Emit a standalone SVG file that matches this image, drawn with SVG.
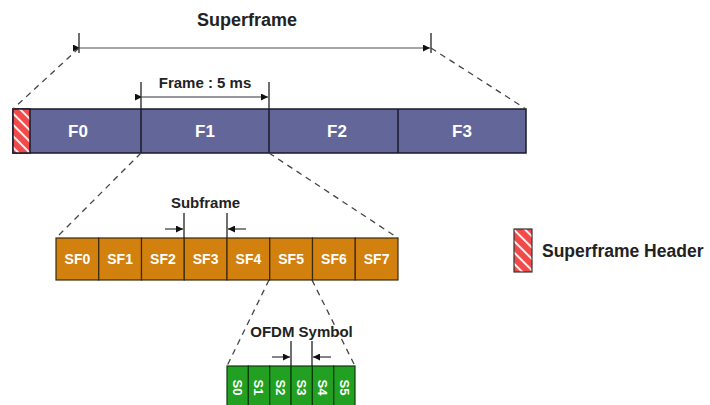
<svg xmlns="http://www.w3.org/2000/svg" width="710" height="405" viewBox="0 0 710 405">
<style>
.lbl{font-family:"Liberation Sans",Arial,sans-serif;font-weight:bold;fill:#222}
.wt{font-family:"Liberation Sans",Arial,sans-serif;font-weight:bold;fill:#fff;text-anchor:middle}
.fr{fill:#636699;stroke:#1a1a2a;stroke-width:1.5}
.sf{fill:#D2800E;stroke:#3a2a10;stroke-width:1.2}
.sy{fill:#22A022;stroke:#0e3a0e;stroke-width:1.2}
.dash{stroke:#444;stroke-width:1.3;stroke-dasharray:6,5;fill:none}
.tick{stroke:#222;stroke-width:1.3}
.dim{stroke:#333;stroke-width:1.2;fill:none}
</style>
<defs>
<marker id="ah" viewBox="0 0 10 10" refX="10" refY="5" markerWidth="9" markerHeight="7" markerUnits="userSpaceOnUse" orient="auto">
<path d="M0,0 L10,5 L0,10 z" fill="#111"/>
</marker>
<pattern id="hatch" width="8" height="8" patternUnits="userSpaceOnUse" patternTransform="rotate(-45)">
<rect width="8" height="8" fill="#F04A4A"/>
<rect x="0" y="0" width="2" height="8" fill="#fff" opacity="0.9"/>
</pattern>
</defs>

<g id="superframe-dim">
<text class="lbl" x="247" y="26" font-size="18" text-anchor="middle">Superframe</text>
<line class="tick" x1="79" y1="33" x2="79" y2="53"/>
<line class="tick" x1="431" y1="33" x2="431" y2="53"/>
<line stroke="#888" stroke-width="1.3" x1="80" y1="48" x2="430" y2="48" marker-start="url(#ah)" marker-end="url(#ah)"/>
</g>

<g id="frame-dim">
<text class="lbl" x="205" y="88" font-size="15" text-anchor="middle">Frame : 5 ms</text>
<line class="tick" x1="141" y1="82" x2="141" y2="109"/>
<line class="tick" x1="269" y1="82" x2="269" y2="109"/>
<line class="dim" x1="142" y1="97" x2="268" y2="97" marker-start="url(#ah)" marker-end="url(#ah)"/>
</g>

<g id="superframe-bar">
<rect class="fr" x="13" y="109" width="513" height="44"/>
<rect x="13" y="109" width="17" height="44" fill="url(#hatch)" stroke="#1a1a2a" stroke-width="1.5"/>
<line stroke="#1a1a2a" stroke-width="1.5" x1="141" y1="109" x2="141" y2="153"/>
<line stroke="#1a1a2a" stroke-width="1.5" x1="269" y1="109" x2="269" y2="153"/>
<line stroke="#1a1a2a" stroke-width="1.5" x1="398" y1="109" x2="398" y2="153"/>
<text class="wt" x="78" y="137" font-size="17">F0</text>
<text class="wt" x="205" y="137" font-size="17">F1</text>
<text class="wt" x="337" y="137" font-size="17">F2</text>
<text class="wt" x="462" y="137" font-size="17">F3</text>
</g>

<g id="connectors">
<line class="dash" x1="79" y1="48" x2="13" y2="109"/>
<line class="dash" x1="431" y1="48" x2="526" y2="109"/>
<line class="dash" x1="141" y1="153" x2="56" y2="238"/>
<line class="dash" x1="269" y1="153" x2="398" y2="238"/>
<line class="dash" x1="269" y1="280" x2="227" y2="366"/>
<line class="dash" x1="312" y1="280" x2="355" y2="366"/>
</g>

<g id="subframe-dim">
<text class="lbl" x="205.5" y="208" font-size="15" text-anchor="middle">Subframe</text>
<line class="tick" x1="184" y1="213" x2="184" y2="238"/>
<line class="tick" x1="227" y1="213" x2="227" y2="238"/>
<line class="dim" x1="165" y1="229" x2="183" y2="229" marker-end="url(#ah)"/>
<line class="dim" x1="246" y1="229" x2="228" y2="229" marker-end="url(#ah)"/>
</g>

<g id="subframe-bar">
<rect class="sf" x="56" y="238" width="42.75" height="42"/>
<rect class="sf" x="98.75" y="238" width="42.75" height="42"/>
<rect class="sf" x="141.5" y="238" width="42.75" height="42"/>
<rect class="sf" x="184.25" y="238" width="42.75" height="42"/>
<rect class="sf" x="227" y="238" width="42.75" height="42"/>
<rect class="sf" x="269.75" y="238" width="42.75" height="42"/>
<rect class="sf" x="312.5" y="238" width="42.75" height="42"/>
<rect class="sf" x="355.25" y="238" width="42.75" height="42"/>
<text class="wt" x="77.4" y="264" font-size="14">SF0</text>
<text class="wt" x="120.1" y="264" font-size="14">SF1</text>
<text class="wt" x="162.9" y="264" font-size="14">SF2</text>
<text class="wt" x="205.6" y="264" font-size="14">SF3</text>
<text class="wt" x="248.4" y="264" font-size="14">SF4</text>
<text class="wt" x="291.1" y="264" font-size="14">SF5</text>
<text class="wt" x="333.9" y="264" font-size="14">SF6</text>
<text class="wt" x="376.6" y="264" font-size="14">SF7</text>
</g>

<g id="ofdm-dim">
<text class="lbl" x="301.5" y="337" font-size="15" text-anchor="middle">OFDM Symbol</text>
<line class="tick" x1="291" y1="341" x2="291" y2="366"/>
<line class="tick" x1="312" y1="341" x2="312" y2="366"/>
<line class="dim" x1="272" y1="357" x2="290" y2="357" marker-end="url(#ah)"/>
<line class="dim" x1="331" y1="357" x2="313" y2="357" marker-end="url(#ah)"/>
</g>

<g id="symbol-bar">
<rect class="sy" x="227" y="366" width="21.35" height="45"/>
<rect class="sy" x="248.35" y="366" width="21.35" height="45"/>
<rect class="sy" x="269.7" y="366" width="21.35" height="45"/>
<rect class="sy" x="291.05" y="366" width="21.35" height="45"/>
<rect class="sy" x="312.4" y="366" width="21.35" height="45"/>
<rect class="sy" x="333.75" y="366" width="21.25" height="45"/>
<text class="wt" font-size="13" transform="translate(233,387.5) rotate(90)">S0</text>
<text class="wt" font-size="13" transform="translate(254.4,387.5) rotate(90)">S1</text>
<text class="wt" font-size="13" transform="translate(275.7,387.5) rotate(90)">S2</text>
<text class="wt" font-size="13" transform="translate(297.1,387.5) rotate(90)">S3</text>
<text class="wt" font-size="13" transform="translate(318.4,387.5) rotate(90)">S4</text>
<text class="wt" font-size="13" transform="translate(339.8,387.5) rotate(90)">S5</text>
</g>

<g id="legend">
<rect x="514" y="229" width="18" height="43" fill="url(#hatch)" stroke="#333" stroke-width="1.2"/>
<text class="lbl" x="542" y="257" font-size="17.5">Superframe Header</text>
</g>
</svg>
